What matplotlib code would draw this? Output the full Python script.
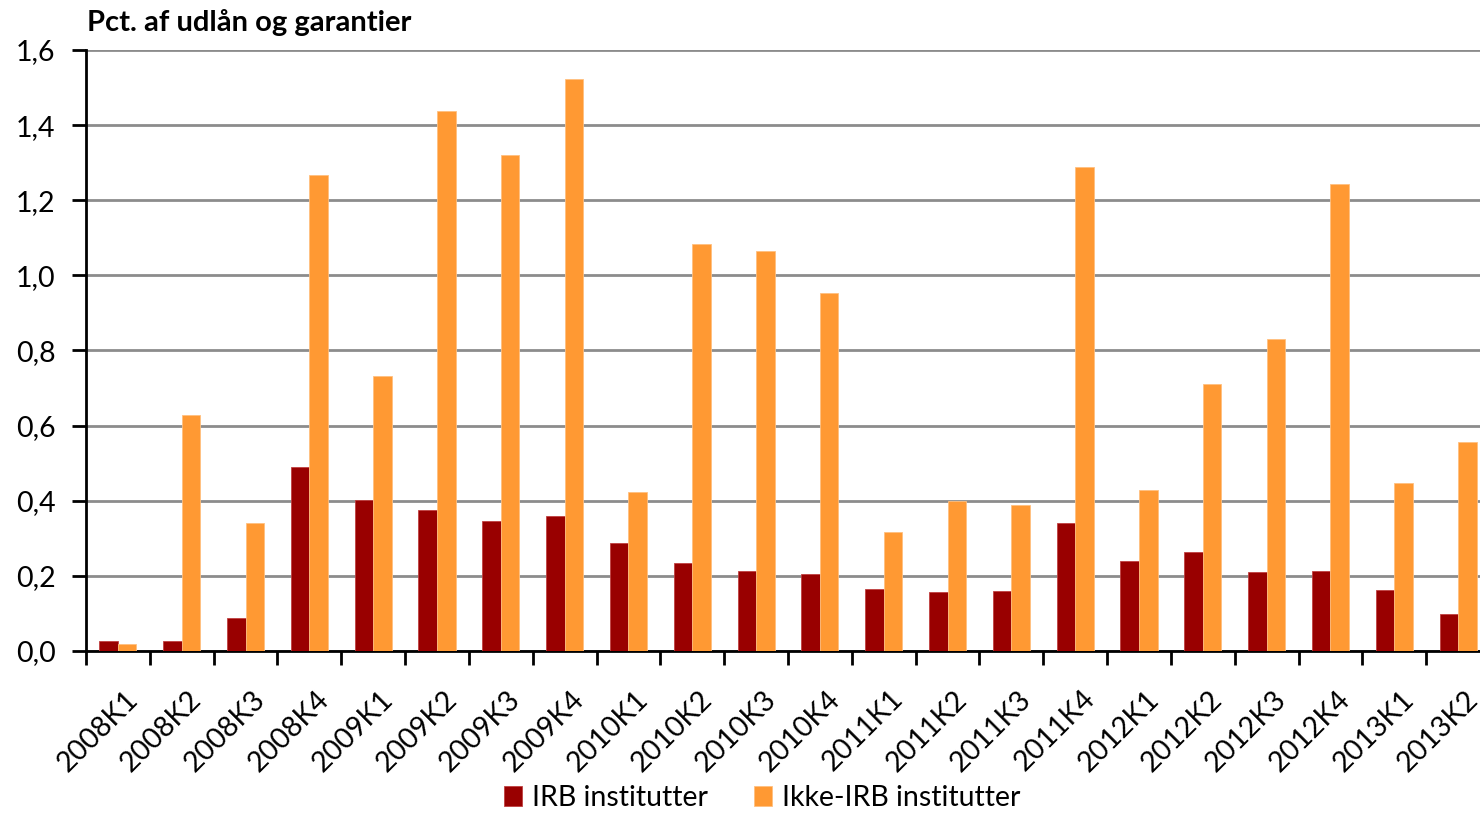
import matplotlib.pyplot as plt
import numpy as np

plt.rcParams['font.family'] = ['Lato', 'DejaVu Sans']

quarters = ['2008K1', '2008K2', '2008K3', '2008K4',
            '2009K1', '2009K2', '2009K3', '2009K4',
            '2010K1', '2010K2', '2010K3', '2010K4',
            '2011K1', '2011K2', '2011K3', '2011K4',
            '2012K1', '2012K2', '2012K3', '2012K4',
            '2013K1', '2013K2']
irb = [0.027, 0.027, 0.088, 0.49,
       0.402, 0.375, 0.346, 0.359,
       0.288, 0.234, 0.213, 0.205,
       0.165, 0.157, 0.160, 0.341,
       0.240, 0.264, 0.210, 0.213,
       0.162, 0.099]
ikke_irb = [0.019, 0.628, 0.341, 1.267,
            0.732, 1.438, 1.321, 1.523,
            0.423, 1.084, 1.065, 0.953,
            0.317, 0.399, 0.389, 1.289,
            0.429, 0.711, 0.831, 1.243,
            0.447, 0.556]
yticks = [0.0, 0.2, 0.4, 0.6, 0.8, 1.0, 1.2, 1.4, 1.6]

fig = plt.figure(figsize=(14.8, 8.13), dpi=100)
# plot area runs a little past the right edge of the canvas
ax = fig.add_axes([86 / 1480, 1 - 651 / 813, 1404 / 1480, 601 / 813])

x = np.arange(len(quarters))
w = 0.29
ax.bar(x - w / 2, irb, w, color='#990000', edgecolor='#c04040', linewidth=0.6,
       label='IRB institutter', zorder=3)
ax.bar(x + w / 2, ikke_irb, w, color='#ff9933', edgecolor='#ffc080', linewidth=0.6,
       label='Ikke-IRB institutter', zorder=3)

ax.set_xlim(-0.5, len(quarters) - 0.5)
ax.set_ylim(0, 1.6)
ax.set_yticks(yticks)
ax.set_yticklabels([f'{v:.1f}'.replace('.', ',') for v in yticks], fontsize=20.5)
ax.yaxis.grid(True, color='#8c8c8c', linewidth=2, zorder=0)

ax.set_xticks(x - 0.5, minor=False)
ax.set_xticklabels([])
ax.set_xticks(x + 0.1, minor=True)
ax.set_xticklabels(quarters, minor=True, rotation=45, ha='right',
                   rotation_mode='anchor', fontsize=20.5)
ax.tick_params(axis='x', which='major', length=10, width=2, direction='out')
ax.tick_params(axis='x', which='minor', length=0, pad=25)
ax.tick_params(axis='y', length=10, width=2, direction='out', pad=12)

for side in ('top', 'right'):
    ax.spines[side].set_visible(False)
for side in ('left', 'bottom'):
    ax.spines[side].set_linewidth(2)
ax.set_axisbelow(True)

fig.text(87 / 1480, 1 - 22 / 813, 'Pct. af udlån og garantier', fontsize=21,
         fontweight='bold', va='center', ha='left')

fig.legend(loc='center', bbox_to_anchor=(762 / 1480, 1 - 798 / 813), ncol=2,
           frameon=False, fontsize=20.5, handlelength=0.65, handleheight=0.65,
           handletextpad=0.35, columnspacing=1.6)

fig.savefig('out.png', dpi=100)
